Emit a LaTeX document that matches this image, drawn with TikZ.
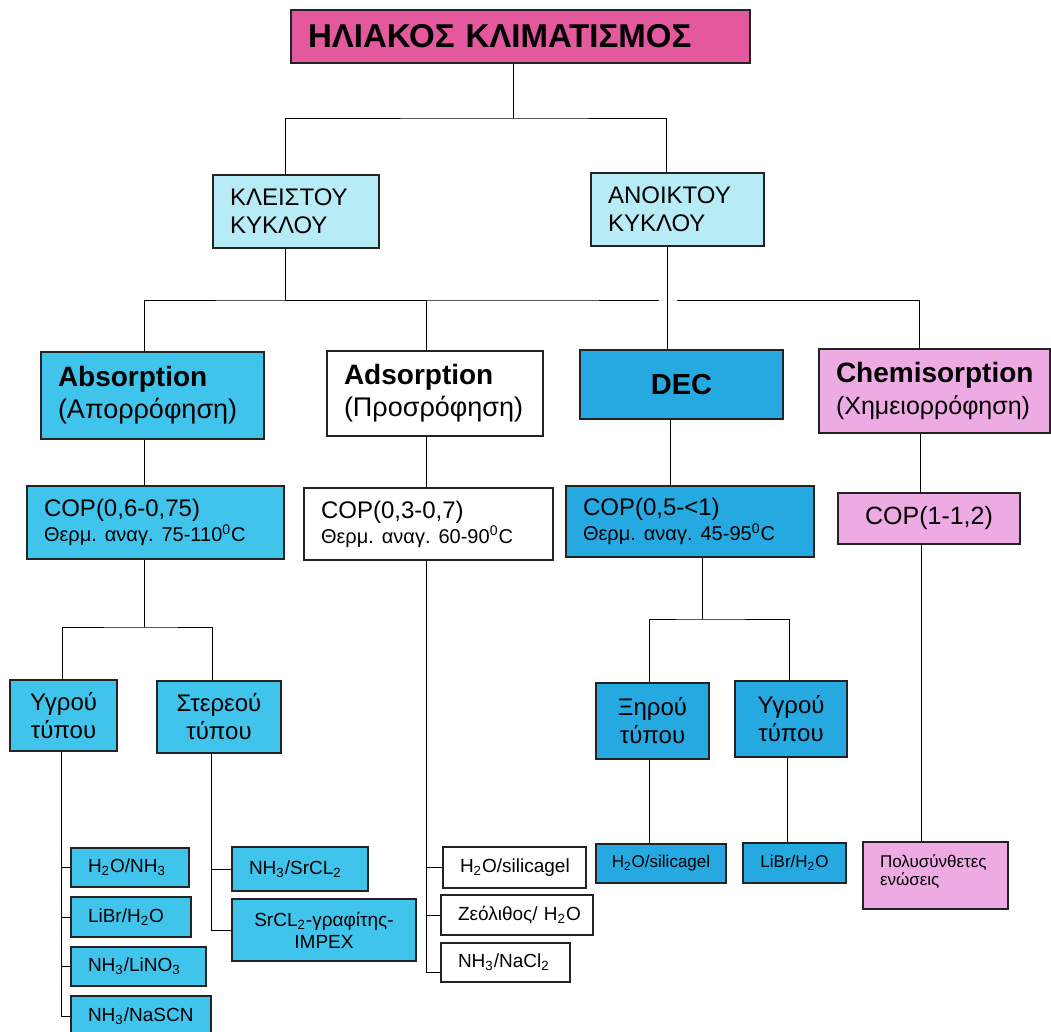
\documentclass[tikz,border=0pt]{standalone}
\usepackage{fontspec}
\setmainfont{Liberation Sans}
\usepackage{tikz}
\usetikzlibrary{positioning}
\pgfdeclarelayer{edgelayer}
\pgfsetlayers{edgelayer,main}
\definecolor{titlepink}{RGB}{228,88,158}
\definecolor{paleblue}{RGB}{183,236,246}
\definecolor{midblue}{RGB}{64,196,236}
\definecolor{deepblue}{RGB}{38,168,224}
\definecolor{lilac}{RGB}{238,170,226}
\definecolor{boxline}{RGB}{35,35,35}
\tikzset{every picture/.style={line width=1pt}}
\tikzstyle{box}=[draw=boxline,line width=1pt,inner xsep=8.5pt,inner ysep=0pt,align=left,
  execute at begin node={\frenchspacing\hyphenpenalty=10000\exhyphenpenalty=10000}]
\tikzstyle{cbox}=[draw=boxline,line width=1pt,inner sep=0pt,align=center]
\tikzstyle{cyc}=[box,fill=paleblue,minimum height=36.5pt,font=\fontsize{12}{14}\selectfont]
\tikzstyle{meth}=[box,font=\fontsize{13.5}{16}\selectfont]
\tikzstyle{cop}=[box,font=\fontsize{12}{12.5}\selectfont]
\tikzstyle{kind}=[cbox,font=\fontsize{12}{14}\selectfont]
\tikzstyle{leaf}=[box,font=\fontsize{9.5}{11}\selectfont]
\tikzstyle{hop}=[preaction={draw=white,line width=9pt}]

\begin{document}
\begin{tikzpicture}[x=0.5pt,y=-0.5pt]
\useasboundingbox (0,0) rectangle (1051,1032);
% top
\node[box,fill=titlepink,text width=212.5pt,minimum height=26.5pt,font=\bfseries\fontsize{16.5}{18}\selectfont] (hk) at (520.5,36.5) {ΗΛΙΑΚΟΣ ΚΛΙΜΑΤΙΣΜΟΣ};
\node[cyc,text width=66pt] (kleistou) at (296,211.5) {ΚΛΕΙΣΤΟΥ\\ΚΥΚΛΟΥ};
\node[cyc,text width=69.5pt] (anoiktou) at (677.5,209.5) {ΑΝΟΙΚΤΟΥ\\ΚΥΚΛΟΥ};
% methods
\node[meth,fill=midblue,text width=94.5pt,minimum height=43.5pt] (absorp) at (152.5,395.5) {{\bfseries\fontsize{14}{16}\selectfont Absorption}\\(Απορρόφηση)};
\node[meth,fill=white,text width=91pt,minimum height=42.5pt] (adsorp) at (435,393.5) {{\bfseries\fontsize{14}{16}\selectfont Adsorption}\\(Προσρόφηση)};
\node[cbox,fill=deepblue,minimum width=101.5pt,minimum height=34.5pt,font=\bfseries\fontsize{14.5}{16}\selectfont] (dec) at (681.5,384.5) {DEC};
\node[meth,fill=lilac,text width=98.5pt,minimum height=42pt] (chem) at (934.5,391) {{\bfseries\fontsize{14}{16}\selectfont Chemisorption}\\{\fontsize{12.5}{16}\selectfont(Χημειορρόφηση)}};
% COP
\node[cop,fill=midblue,text width=111.5pt,minimum height=36.5pt] (copabs) at (155.5,522.5) {COP(0,6-0,75)\\{\fontsize{10}{12.5}\selectfont Θερμ. αναγ. 75-110\textsuperscript{0}C}};
\node[cop,fill=white,text width=107.5pt,minimum height=36pt] (copads) at (428.5,524) {COP(0,3-0,7)\\{\fontsize{10}{12.5}\selectfont Θερμ. αναγ. 60-90\textsuperscript{0}C}};
\node[cop,fill=deepblue,text width=107pt,minimum height=35.5pt] (copdec) at (690,521.5) {COP(0,5-<1)\\{\fontsize{10}{12.5}\selectfont Θερμ. αναγ. 45-95\textsuperscript{0}C}};
\node[cbox,fill=lilac,minimum width=91pt,minimum height=25.5pt,font=\fontsize{12.5}{14}\selectfont] (copchem) at (929,518.5) {COP(1-1,2)};
% types
\node[kind,fill=midblue,minimum width=53.5pt,minimum height=35.5pt] (ygrou1) at (63.5,715.5) {Υγρού\\τύπου};
\node[kind,fill=midblue,minimum width=62pt,minimum height=36pt] (stereou) at (219,717) {Στερεού\\τύπου};
\node[kind,fill=deepblue,minimum width=56.5pt,minimum height=38pt] (xirou) at (652.5,721) {Ξηρού\\τύπου};
\node[kind,fill=deepblue,minimum width=56pt,minimum height=38pt] (ygrou2) at (791,719) {Υγρού\\τύπου};
% working pairs
\node[leaf,fill=midblue,text width=42pt,minimum height=19.5pt] (h2onh3) at (130,867.5) {H\textsubscript{2}O/NH\textsubscript{3}};
\node[leaf,fill=midblue,text width=43pt,minimum height=20pt] (libr) at (131,917) {LiBr/H\textsubscript{2}O};
\node[leaf,fill=midblue,text width=50.5pt,minimum height=19.5pt] (nh3lino3) at (138.5,966.5) {NH\textsubscript{3}/LiNO\textsubscript{3}};
\node[leaf,fill=midblue,text width=53pt,minimum height=20pt] (nh3nascn) at (141,1016) {NH\textsubscript{3}/NaSCN};
\node[leaf,fill=midblue,text width=51pt,minimum height=22pt] (nh3srcl) at (300,869) {NH\textsubscript{3}/SrCL\textsubscript{2}};
\node[cbox,fill=midblue,minimum width=92pt,minimum height=31pt,font=\fontsize{9.5}{11}\selectfont] (srclimpex) at (324,930) {SrCL\textsubscript{2}-γραφίτης-\\IMPEX};
\node[leaf,fill=white,text width=54.5pt,minimum height=20.5pt] (h2osil) at (514.5,867.5) {H\textsubscript{2}O/silicagel};
\node[leaf,fill=white,text width=59pt,minimum height=20pt] (zeol) at (517,915) {Ζεόλιθος/~H\textsubscript{2}O};
\node[leaf,fill=white,text width=47.5pt,minimum height=19.5pt] (nh3nacl) at (505.5,962.5) {NH\textsubscript{3}/NaCl\textsubscript{2}};
\node[cbox,fill=deepblue,minimum width=65pt,minimum height=19.5pt,font=\fontsize{8.5}{10}\selectfont] (decsil) at (661,863.5) {H\textsubscript{2}O/silicagel};
\node[cbox,fill=deepblue,minimum width=51.5pt,minimum height=20pt,font=\fontsize{8.5}{10}\selectfont] (declibr) at (794.5,863) {LiBr/H\textsubscript{2}O};
\node[box,fill=lilac,text width=55.5pt,inner ysep=6pt,text height=6.5pt,text depth=15pt,font=\fontsize{8.5}{9}\selectfont] (poly) at (935.5,875.5) {Πολυσύνθετες\\ενώσεις};

\begin{pgfonlayer}{edgelayer}
\coordinate (b1) at (513,118);
\coordinate (b2) at (285,300);
\coordinate (b3) at (144,627);
\coordinate (b4) at (702,619);
\draw (b1 |- hk.south) -- (b1);
\draw ([xshift=-5.5pt]kleistou.north) |- (b1) -| ([xshift=-5.75pt]anoiktou.north);
\draw (b2 |- kleistou.south) -- (b2);
\draw ([xshift=-4.25pt]absorp.north) |- (b2) -| ([xshift=-7.75pt]chem.north);
\draw ([xshift=-4.5pt]adsorp.north) |- (b2);
\draw[hop] ([xshift=-5pt]anoiktou.south) -- ([xshift=-5pt]anoiktou.south |- dec.north);
\foreach \a/\b/\s in {absorp/copabs/-4.25pt,adsorp/copads/-4.5pt,dec/copdec/-5.75pt,chem/copchem/-7.25pt,xirou/decsil/-1.75pt,ygrou2/declibr/-2pt,copchem/poly/-4pt}
  \draw ([xshift=\s]\a.south) -- ([xshift=\s]\a.south |- \b.north);
\draw (b3 |- copabs.south) -- (b3);
\draw ([xshift=-0.75pt]ygrou1.north) |- (b3) -| ([xshift=-3.5pt]stereou.north);
\draw (b4 |- copdec.south) -- (b4);
\draw ([xshift=-1.75pt]xirou.north) |- (b4) -| ([xshift=-1pt]ygrou2.north);
\foreach \n in {h2onh3,libr,nh3lino3,nh3nascn}
  \draw ([xshift=-1.25pt]ygrou1.south) |- (\n.west);
\foreach \n in {nh3srcl,srclimpex}
  \draw ([xshift=-4pt]stereou.south) |- (\n.west);
\foreach \n in {h2osil,zeol}
  \draw ([xshift=-1.25pt]copads.south) |- (\n.west);
\draw ([xshift=-1.25pt]copads.south) |- ([yshift=-5pt]nh3nacl.west);
\end{pgfonlayer}
\end{tikzpicture}
\end{document}
